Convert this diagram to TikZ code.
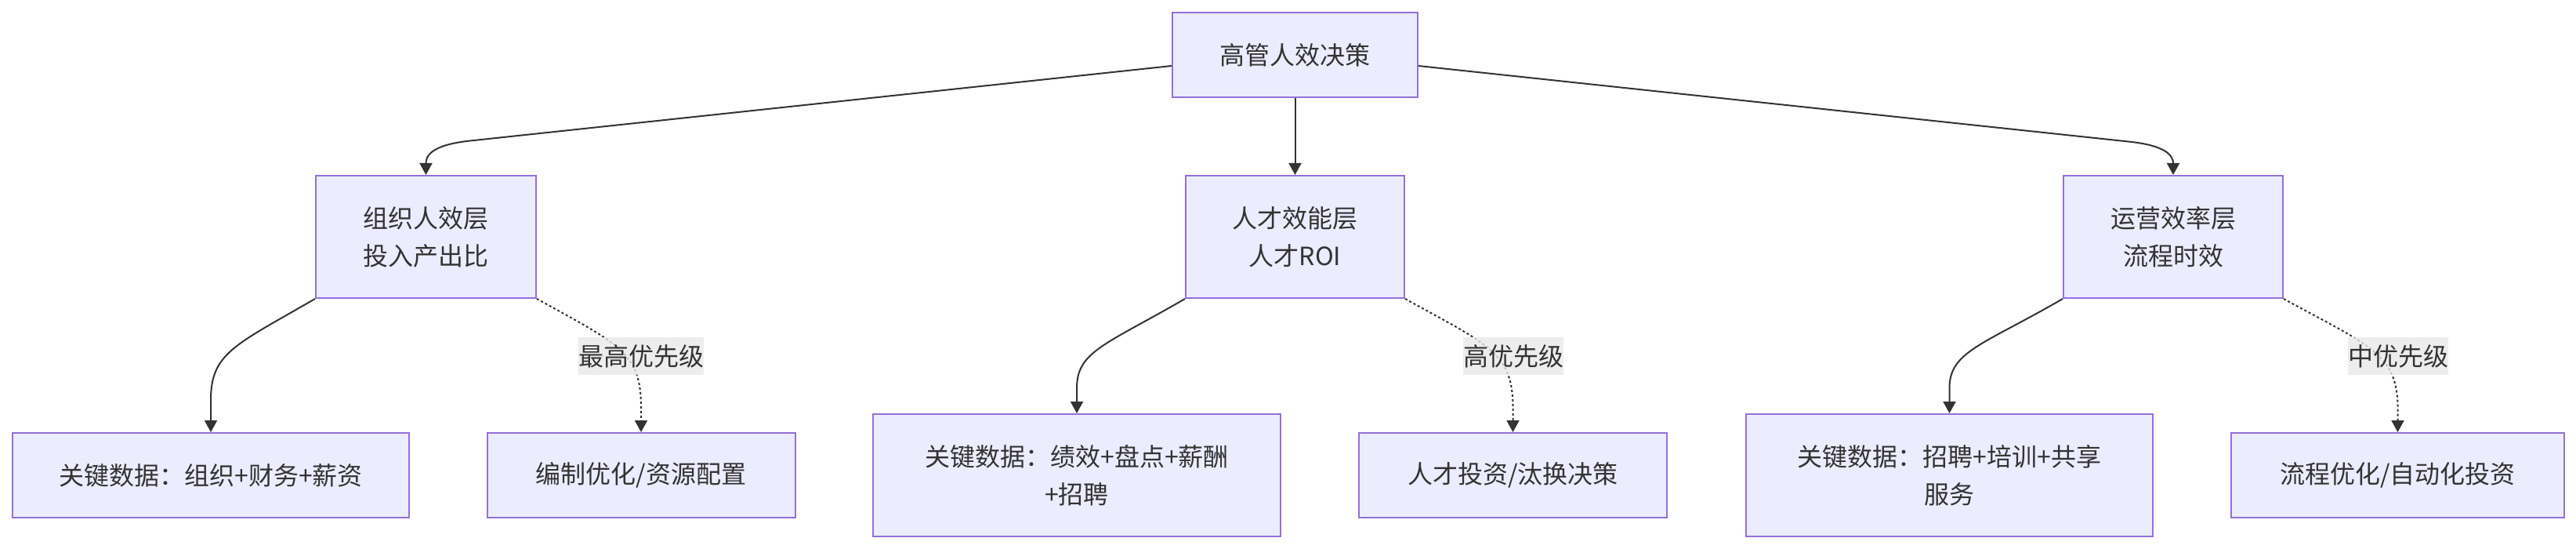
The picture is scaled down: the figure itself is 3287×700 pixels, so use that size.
\documentclass[tikz,border=0pt]{standalone}
\usepackage{fontspec}
\setmainfont{Noto Sans CJK SC}
\usetikzlibrary{arrows.meta}
\definecolor{boxfill}{HTML}{ECECFF}
\definecolor{boxdraw}{HTML}{9370DB}
\definecolor{ink}{HTML}{333333}
\definecolor{lblbg}{HTML}{E8E8E8}
\tikzset{
  box/.style={draw=boxdraw, fill=boxfill, line width=2pt, text=ink,
    font=\fontsize{32}{48}\selectfont, align=center, inner sep=0pt},
  lbl/.style={fill=lblbg, fill opacity=0.8, text opacity=1, text=ink,
    font=\fontsize{32}{48}\selectfont, inner sep=0pt, minimum height=48pt},
  edge/.style={draw=ink, line width=2pt, -{Triangle[length=15pt,width=16pt]}},
  dotedge/.style={edge, dash pattern=on 3pt off 3pt}
}
\begin{document}
\begin{tikzpicture}[x=1pt,y=-1pt]
\useasboundingbox (0,0) rectangle (3287,700);

\node[box, minimum width=313pt, minimum height=108pt] (top) at (1652.5,70) {高管人效决策};

\node[box, minimum width=281pt, minimum height=156pt] (org) at (543.5,302) {组织人效层\\投入产出比};
\node[box, minimum width=279pt, minimum height=156pt] (talent) at (1652.5,302) {人才效能层\\人才ROI};
\node[box, minimum width=280pt, minimum height=156pt] (ops) at (2773,302) {运营效率层\\流程时效};

\node[box, minimum width=506pt, minimum height=108pt] (b1) at (269,606) {关键数据：组织+财务+薪资};
\node[box, minimum width=393pt, minimum height=108pt] (b2) at (818,606) {编制优化/资源配置};
\node[box, minimum width=520pt, minimum height=156pt] (b3) at (1374,606) {关键数据：绩效+盘点+薪酬\\+招聘};
\node[box, minimum width=393pt, minimum height=108pt] (b4) at (1930.5,606) {人才投资/汰换决策};
\node[box, minimum width=519pt, minimum height=156pt] (b5) at (2487.5,606) {关键数据：招聘+培训+共享\\服务};
\node[box, minimum width=425pt, minimum height=108pt] (b6) at (3059.5,606) {流程优化/自动化投资};

% top level edges
\draw[edge] ([yshift=-14pt]top.west) -- (600,179.5) .. controls (548,185) and (543.5,200) .. (org.north);
\draw[edge] (top.south) -- (talent.north);
\draw[edge] ([yshift=-14pt]top.east) -- (2716.5,180.6) .. controls (2768.5,186) and (2773,201) .. (ops.north);

% second level edges
\draw[edge] (org.south west) .. controls (300,440) and (269,450) .. (269,510) -- (b1.north);
\draw[dotedge] (org.south east) .. controls (792,440) and (818,450) .. (818,520) -- (b2.north);
\draw[edge] (talent.south west) .. controls (1410,440) and (1374,448) .. (1374,495) -- (b3.north);
\draw[dotedge] (talent.south east) .. controls (1900,440) and (1930.5,450) .. (1930.5,520) -- (b4.north);
\draw[edge] (ops.south west) .. controls (2530,440) and (2487.5,448) .. (2487.5,495) -- (b5.north);
\draw[dotedge] (ops.south east) .. controls (3021,440) and (3059.5,450) .. (3059.5,520) -- (b6.north);

% edge labels
\node[lbl] (l1) at (818,454) {最高优先级};
\node[lbl] (l2) at (1931,454) {高优先级};
\node[lbl] (l3) at (3060,454) {中优先级};
\end{tikzpicture}
\end{document}
